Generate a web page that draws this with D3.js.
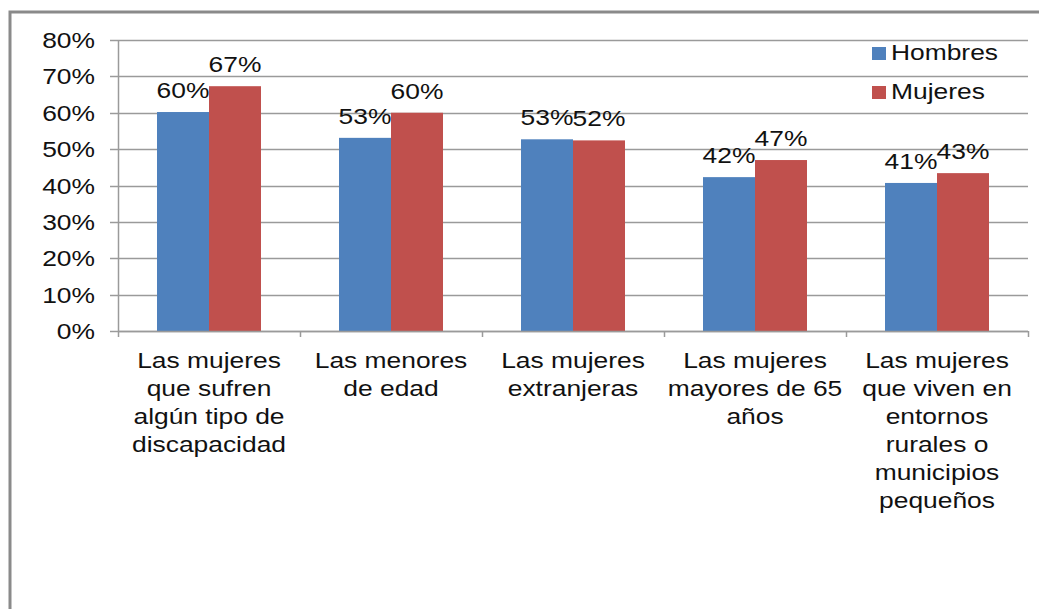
<!DOCTYPE html>
<html>
<head>
<meta charset="utf-8">
<script src="https://cdn.jsdelivr.net/npm/d3@7"></script>
<style>
  body { margin: 0; background: #fff; }
  text { font-family: "Liberation Sans", Arial, sans-serif; fill: #111; }
</style>
</head>
<body>
<div id="wrapper"></div>
<script>
// data
const categories = [
  ["Las mujeres", "que sufren", "algún tipo de", "discapacidad"],
  ["Las menores", "de edad"],
  ["Las mujeres", "extranjeras"],
  ["Las mujeres", "mayores de 65", "años"],
  ["Las mujeres", "que viven en", "entornos", "rurales o", "municipios", "pequeños"]
];
const seriesNames = ["Hombres", "Mujeres"];
const hombres = [0.602, 0.531, 0.527, 0.423, 0.407];
const mujeres = [0.673, 0.600, 0.524, 0.470, 0.434];
const yTicks = [0, 0.1, 0.2, 0.3, 0.4, 0.5, 0.6, 0.7, 0.8];
const colors = ["#4f81bd", "#c0504d"];

const width = 1039, height = 609;
const plot = { left: 118, right: 1028, top: 40, bottom: 331 };
const stretch = 1.2;
const fontSize = 22;

const svg = d3.select("#wrapper").append("svg")
  .attr("width", width)
  .attr("height", height);

// outer frame
svg.append("rect")
  .attr("x", 10).attr("y", 12)
  .attr("width", 1060).attr("height", 640)
  .attr("fill", "none")
  .attr("stroke", "#8a8a8a")
  .attr("stroke-width", 3);

const idx = d3.range(categories.length);
const x0 = d3.scaleBand().domain(idx).range([plot.left, plot.right]);
const x1 = d3.scaleBand().domain(seriesNames).range([0, x0.bandwidth()]).paddingInner(0).paddingOuter(0.75);
const y = d3.scaleLinear().domain([0, 0.8]).range([plot.bottom, plot.top]);

function label(g, x, yy, str, anchor) {
  g.append("text")
    .attr("transform", `translate(${x},${yy}) scale(${stretch},1)`)
    .attr("text-anchor", anchor || "middle")
    .style("font-size", fontSize + "px")
    .text(str);
}

// gridlines
svg.append("g").selectAll("line").data(yTicks).join("line")
  .attr("x1", plot.left - 8).attr("x2", plot.right)
  .attr("y1", d => Math.round(y(d)) + 0.5).attr("y2", d => Math.round(y(d)) + 0.5)
  .attr("stroke", "#9a9a9a").attr("stroke-width", 1.5);

// y axis labels
const yLab = svg.append("g");
yTicks.forEach(t => label(yLab, 95, y(t) + 8, d3.format(".0%")(t), "end"));

// bars
const data = idx.map(i => ({ i, vals: [hombres[i], mujeres[i]] }));
const groups = svg.append("g").selectAll("g").data(data).join("g")
  .attr("transform", d => `translate(${x0(d.i)},0)`);

groups.selectAll("rect").data(d => d.vals.map((v, k) => ({ v, k }))).join("rect")
  .attr("x", d => x1(seriesNames[d.k]))
  .attr("width", x1.bandwidth())
  .attr("y", d => y(d.v))
  .attr("height", d => y(0) - y(d.v))
  .attr("fill", d => colors[d.k]);

// value labels
groups.each(function(d) {
  const g = d3.select(this);
  d.vals.forEach((v, k) => {
    label(g, x1(seriesNames[k]) + x1.bandwidth() / 2, y(v) - 14, d3.format(".0%")(v));
  });
});

// axis lines
svg.append("line")
  .attr("x1", plot.left + 0.5).attr("x2", plot.left + 0.5)
  .attr("y1", plot.top).attr("y2", plot.bottom)
  .attr("stroke", "#9a9a9a").attr("stroke-width", 1.5);
svg.append("line")
  .attr("x1", plot.left).attr("x2", plot.right)
  .attr("y1", plot.bottom + 0.5).attr("y2", plot.bottom + 0.5)
  .attr("stroke", "#9a9a9a").attr("stroke-width", 1.5);
svg.append("g").selectAll("line").data(idx.concat([categories.length])).join("line")
  .attr("x1", d => (d < categories.length ? x0(d) : plot.right) + 0.5)
  .attr("x2", d => (d < categories.length ? x0(d) : plot.right) + 0.5)
  .attr("y1", plot.bottom).attr("y2", plot.bottom + 6)
  .attr("stroke", "#9a9a9a").attr("stroke-width", 1.5);

// category labels
const xLab = svg.append("g");
categories.forEach((lines, i) => {
  lines.forEach((ln, j) => label(xLab, x0(i) + x0.bandwidth() / 2, 368 + j * 28, ln));
});

// legend
const legend = svg.append("g");
seriesNames.forEach((s, k) => {
  legend.append("rect")
    .attr("x", 872).attr("y", 47 + k * 39)
    .attr("width", 14).attr("height", 13)
    .attr("fill", colors[k]);
  label(legend, 891, 60 + k * 39, s, "start");
});
</script>
</body>
</html>
